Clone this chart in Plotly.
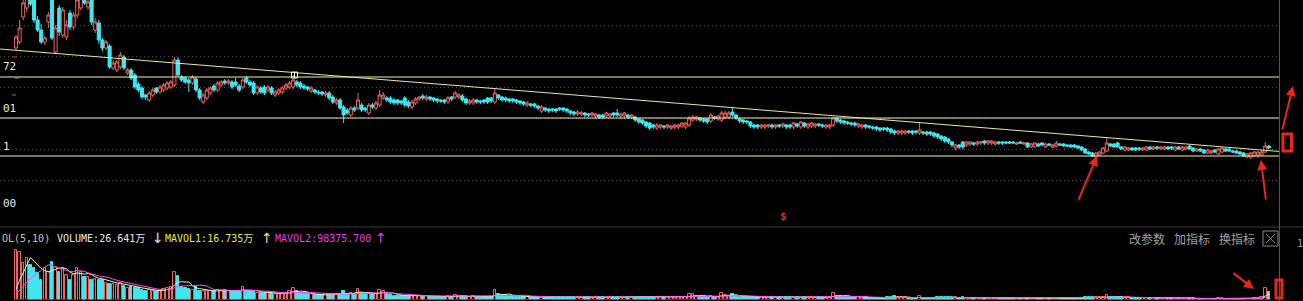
import plotly.graph_objects as go
import pandas as pd

# ---------------- data (price in 0.01 units, volume in 万股) ----------------
open_ = [
    202,208,233,242,258,250,230,220,208,228, 252,198,242,215,213,237,223,235,242,255,
    243,255,220,227,210,202,204,182,180,183, 193,177,180,175,166,162,155,150,155,162,
    158,160,162,163,165,190,173,172,170,167, 171,160,148,152,157,164,160,165,169,167,
    168,168,164,163,172,168,167,157,162,163, 160,162,155,157,158,162,163,163,168,167,
    164,163,159,160,158,158,155,157,153,147, 150,143,140,135,142,142,145,142,137,145,
    142,145,152,152,152,150,150,149,152,148, 143,147,151,154,151,153,152,151,150,150,
    148,153,153,153,154,151,147,147,150,149, 150,152,152,148,155,153,152,151,151,150,
    149,148,145,146,146,144,139,142,141,141, 141,142,142,141,139,138,136,136,137,136,
    135,134,135,135,134,134,137,137,134,134, 135,133,133,131,130,128,127,125,122,123,
    124,123,122,123,123,124,123,125,130,131, 132,131,131,129,133,131,130,133,133,138,
    135,131,130,129,128,125,125,123,123,124, 125,123,125,124,125,125,123,126,123,127,
    123,124,124,126,125,123,123,125,132,130, 129,128,127,127,124,123,125,124,123,123,
    122,122,122,121,119,117,117,117,119,119, 119,117,118,118,118,117,116,114,113,111,
    108,102,105,108,105,106,107,106,107,109, 107,107,106,108,108,108,108,108,106,108,
    106,107,103,103,106,107,103,106,103,104, 106,106,105,105,105,104,103,101,98,97,
    93,95,97,99,106,106,107,103,100,100, 102,102,102,100,100,103,101,103,101,101,
    103,103,100,103,100,101,104,102,99,101, 100,97,97,100,96,98,101,101,99,99,
    98,97,93,93,94,95,95,98,104,
]
close_ = [
    213,222,247,256,246,230,220,208,212,235, 212,222,218,240,225,223,235,250,255,247,
    248,228,228,210,202,208,183,187,188,195, 182,180,172,163,160,153,153,157,160,158,
    163,165,167,168,190,175,170,168,167,173, 160,152,155,160,162,160,167,168,167,169,
    163,165,160,170,168,165,157,163,158,157, 163,157,158,160,162,165,167,170,165,163,
    162,161,162,158,157,156,157,152,148,150, 142,135,137,142,140,150,140,140,145,143,
    147,155,155,150,148,147,147,147,145,144, 148,151,153,152,153,151,150,149,149,148,
    152,151,157,155,150,147,149,150,148,148, 148,148,149,157,152,150,150,149,149,148,
    147,146,147,145,144,142,143,140,139,140, 139,141,140,139,137,136,138,137,135,135,
    137,136,133,133,137,136,135,135,136,137, 133,135,130,128,127,124,122,123,125,125,
    123,125,124,125,125,127,127,132,133,133, 130,129,128,135,132,134,137,137,137,135,
    132,129,128,128,124,123,123,125,125,125, 123,125,124,126,123,123,127,124,128,124,
    126,127,126,125,124,125,125,132,129,128, 127,127,126,125,126,125,123,123,122,121,
    120,121,120,118,117,119,119,119,118,117, 118,120,117,116,116,114,113,111,109,108,
    105,105,103,103,108,108,106,108,108,107, 109,109,108,107,107,107,107,107,107,107,
    107,103,106,107,104,105,106,105,105,107, 105,104,104,103,103,102,100,97,96,94,
    97,98,102,107,104,103,103,101,103,102, 100,100,101,102,103,101,103,102,103,103,
    101,102,103,101,103,103,101,99,101,99, 97,100,99,98,101,102,99,99,98,97,
    96,94,96,97,98,98,98,104,102,
]
high = [
    215,230,250,262,265,255,234,226,214,238, 256,225,245,243,230,240,238,253,258,260,
    252,258,232,230,212,210,206,190,190,198, 195,182,182,177,168,164,156,159,162,163,
    165,167,169,170,193,193,175,174,172,175, 173,162,157,162,164,166,169,170,171,171,
    170,172,166,172,174,170,169,165,164,165, 165,164,160,162,164,167,169,175,170,169,
    166,164,164,161,160,159,159,159,155,152, 152,145,142,144,144,157,147,143,147,147,
    149,160,158,154,154,152,151,150,154,150, 150,153,154,156,155,154,153,152,151,151,
    154,154,159,157,156,152,151,152,151,150, 151,153,153,162,156,154,153,152,152,151,
    150,149,149,147,147,145,145,143,142,142, 142,143,143,142,140,139,140,139,138,137,
    138,137,136,136,138,137,138,141,137,138, 136,136,134,132,131,129,128,126,127,126,
    125,126,125,126,126,128,128,134,135,134, 133,132,132,137,134,135,139,139,139,142,
    136,132,131,130,129,126,126,126,126,126, 126,126,126,127,126,126,128,127,129,128,
    127,128,127,127,126,126,126,133,133,131, 130,129,128,128,127,126,126,125,124,124,
    123,123,123,122,120,120,120,120,120,120, 120,127,119,119,119,118,117,115,114,112,
    109,106,106,109,109,109,108,109,109,110, 110,110,109,109,109,109,109,109,108,109,
    108,108,107,108,107,108,107,107,106,109, 107,107,106,106,106,105,104,102,99,98,
    98,99,103,112,107,107,108,104,104,103, 103,103,103,103,104,104,104,104,104,104,
    104,104,104,104,104,104,105,103,102,102, 101,101,100,101,102,103,102,102,100,100,
    99,98,97,98,99,99,100,108,105,
]
low = [
    200,206,230,238,244,227,218,206,205,222, 210,196,214,212,210,220,220,232,240,245,
    240,225,217,206,199,200,181,180,178,181, 180,175,170,161,158,151,150,148,153,156,
    156,158,160,161,163,173,168,166,158,165, 158,150,146,150,155,158,158,163,165,165,
    161,163,158,161,166,163,155,155,156,155, 158,155,153,155,156,160,161,161,163,161,
    160,159,157,156,155,154,153,150,146,145, 140,127,135,133,138,140,138,138,135,141,
    140,143,150,148,146,145,145,145,143,142, 141,145,149,150,149,149,148,147,147,146,
    146,149,151,151,148,145,145,145,146,146, 146,146,147,146,150,148,148,147,147,146,
    145,144,143,143,142,140,137,138,137,138, 137,139,138,137,135,134,134,134,133,133,
    133,132,131,131,132,132,133,133,132,132, 131,131,128,126,125,122,120,121,120,121,
    121,121,120,121,121,122,121,123,128,129, 128,127,126,127,130,129,128,131,131,133,
    130,127,126,126,122,121,121,121,121,122, 121,121,122,122,121,121,121,122,121,122,
    121,122,122,123,122,121,121,123,127,126, 125,125,124,123,122,121,121,121,120,119,
    118,119,118,116,115,115,115,115,116,115, 116,115,115,114,114,112,111,109,107,106,
    103,100,101,101,103,104,104,104,105,105, 105,105,104,105,105,106,106,106,105,106,
    105,102,102,102,103,104,102,104,102,103, 104,103,103,102,102,101,99,96,95,93,
    92,94,96,98,103,102,102,100,99,99, 99,99,99,99,99,100,100,100,100,100,
    100,100,99,100,99,100,100,98,98,98, 96,96,96,97,95,97,98,98,97,96,
    95,93,92,91,93,92,94,97,101,
]
volume = [
    166,160,123,140,117,107,90,67,107,93,127,110,93,107,83,67,83,107,93,77,77,67,70,67,
    67,57,53,53,50,57,47,40,43,40,40,33,30,33,27,27,30,37,40,43,93,80,43,40,37,33,43,30,
    30,27,27,30,33,30,33,30,30,27,30,43,30,27,27,23,23,23,23,20,20,20,20,23,27,40,27,23,
    20,17,17,15,15,15,17,17,20,17,20,27,20,23,17,37,23,17,20,17,20,33,27,17,15,13,13,13,
    13,13,15,13,12,10,12,10,10,10,10,10,12,10,15,13,12,13,10,12,10,8,8,8,10,33,17,
    15,15,13,13,10,10,8,8,8,8,10,10,8,7,7,7,7,7,7,8,8,7,7,7,7,7,7,7,
    7,8,7,7,8,7,7,7,7,8,8,8,10,10,8,8,7,7,7,7,7,7,8,8,17,17,13,10,
    10,8,13,8,10,22,15,13,17,12,10,8,8,10,8,7,7,7,7,7,7,7,7,7,7,8,7,8,
    7,7,8,7,7,7,7,8,23,12,12,10,10,8,7,7,7,7,5,5,5,5,5,7,10,13,8,7,
    7,5,5,5,11,5,5,5,5,7,7,7,7,8,7,5,7,5,5,5,5,5,5,5,5,5,5,
    5,4,4,4,4,4,4,5,4,4,4,4,4,4,4,5,4,4,4,4,4,4,5,7,7,7,8,7,
    10,14,8,7,7,7,7,7,5,4,4,4,4,4,4,4,4,4,4,4,4,4,4,4,4,4,
    3,3,3,3,3,3,4,4,3,3,3,3.0,2.9,2.9,3.0,2.9,4.0,5.0,8.0,40.034,26.641,
]
levels = [173, 132, 94]            # horizontal support / resistance lines
trend_x = [-4.4, 351.1]            # down-trend line anchors (bar index)
trend_y = [201.0, 98.5]
grid_vals = [225, 194, 163, 132, 101, 70]
left_labels = ["72", "01", "1", "00"]
legend_texts = ["OL(5,10)", "VOLUME:26.641万", "↓", "MAVOL1:16.735万", "↑", "MAVOL2:98375.700", "↑"]
buttons = ["改参数", "加指标", "换指标"]

n = len(close_)
assert len(open_) == n and len(high) == n and len(low) == n and len(volume) == n
idx = list(range(n))

RED = "#f06262"
CYAN = "#3fe6ee"
PW, PH = 1280.0, 301.0


def X(p):
    return p / PW


def Y(p):
    return 1 - p / PH


vol = pd.Series(volume)
mavol1 = (vol.rolling(5, min_periods=1).sum() / 5).tolist()
mavol2 = (vol.rolling(10, min_periods=1).sum() / 10).tolist()
up = [c >= o for o, c in zip(open_, close_)]

fig = go.Figure()
fig.add_trace(go.Candlestick(
    x=idx, open=open_, high=high, low=low, close=close_,
    increasing=dict(line=dict(color=RED, width=1), fillcolor="#000000"),
    decreasing=dict(line=dict(color=CYAN, width=1), fillcolor=CYAN),
    whiskerwidth=0, hoverinfo="skip", xaxis="x", yaxis="y"))
fig.add_trace(go.Bar(
    x=idx, y=volume, width=0.72,
    marker=dict(color=["#000000" if u else CYAN for u in up],
                line=dict(color=[RED if u else CYAN for u in up], width=1)),
    hoverinfo="skip", xaxis="x", yaxis="y2"))
fig.add_trace(go.Scatter(x=idx, y=mavol1, mode="lines", line=dict(color="#f2f2b0", width=1),
                         hoverinfo="skip", xaxis="x", yaxis="y2"))
fig.add_trace(go.Scatter(x=idx, y=mavol2, mode="lines", line=dict(color="#ff4cff", width=1),
                         hoverinfo="skip", xaxis="x", yaxis="y2"))

shapes = []
for lv in levels:
    shapes.append(dict(type="line", xref="paper", yref="y", x0=0, x1=1, y0=lv, y1=lv,
                       line=dict(color="#eeeea0", width=1)))
shapes.append(dict(type="line", xref="x", yref="y", x0=trend_x[0], x1=trend_x[1],
                   y0=trend_y[0], y1=trend_y[1], line=dict(color="#e8e89a", width=1)))
# panel separators
shapes.append(dict(type="line", xref="paper", yref="paper", x0=0, x1=X(1303), y0=Y(227), y1=Y(227),
                   line=dict(color="#3a3a3a", width=1)))
shapes.append(dict(type="line", xref="paper", yref="paper", x0=X(1279.5), x1=X(1279.5), y0=0, y1=1,
                   line=dict(color="#555555", width=1)))
# left axis tick dashes
for (xa, xb, yy, col) in [(13, 17, 57, "#d04040"), (15, 19, 78, "#e08848"), (12, 16, 95, "#b06060")]:
    shapes.append(dict(type="line", xref="paper", yref="paper", x0=X(xa), x1=X(xb), y0=Y(yy), y1=Y(yy),
                       line=dict(color=col, width=1)))
# close box
shapes.append(dict(type="rect", xref="paper", yref="paper", x0=X(1263), x1=X(1278), y0=Y(246), y1=Y(231),
                   line=dict(color="#8a8a8a", width=1)))
shapes.append(dict(type="line", xref="paper", yref="paper", x0=X(1266), x1=X(1275), y0=Y(234), y1=Y(243),
                   line=dict(color="#8a8a8a", width=1)))
shapes.append(dict(type="line", xref="paper", yref="paper", x0=X(1275), x1=X(1266), y0=Y(234), y1=Y(243),
                   line=dict(color="#8a8a8a", width=1)))
# crosshair marker
shapes.append(dict(type="rect", xref="paper", yref="paper", x0=X(291.5), x1=X(297.5), y0=Y(78), y1=Y(72),
                   line=dict(color="#ffffff", width=1)))
shapes.append(dict(type="line", xref="paper", yref="paper", x0=X(294.5), x1=X(294.5), y0=Y(78), y1=Y(72),
                   line=dict(color="#ffffff", width=1)))
# red hand-drawn boxes
RD = "#e8261c"
shapes.append(dict(type="rect", xref="paper", yref="paper", x0=X(1283), x1=X(1291.5), y0=Y(151), y1=Y(134),
                   line=dict(color=RD, width=3)))
shapes.append(dict(type="rect", xref="paper", yref="paper", x0=X(1276), x1=X(1282), y0=Y(298), y1=Y(280),
                   line=dict(color=RD, width=3)))

ann = []
mono = "DejaVu Sans Mono, Noto Sans CJK SC"
for txt, yy, col in zip(left_labels, [66, 108, 146, 203],
                        ["#e8e8d0", "#f0f0c8", "#f0f0a0", "#e8e8e8"]):
    ann.append(dict(text=txt, x=X(1), y=Y(yy), xref="paper", yref="paper", xanchor="left",
                    yanchor="middle", showarrow=False, font=dict(family=mono, size=11, color=col)))
for txt, xl, col in zip(legend_texts, [0, 55, 150, 163, 259, 273, 373],
                        ["#c4c4c4", "#e8e8e8", "#e8e8e8", "#e8e850", "#e8e850", "#e040e0", "#e040e0"]):
    is_arrow = txt in ("↑", "↓")
    ann.append(dict(text=txt, x=X(xl), y=Y(238), xref="paper", yref="paper", xanchor="left",
                    yanchor="middle", showarrow=False,
                    font=dict(family="DejaVu Sans" if is_arrow else mono,
                              size=14 if is_arrow else 10, color=col)))
for txt, xl in zip(buttons, [1127, 1172, 1217]):
    ann.append(dict(text=txt, x=X(xl), y=Y(238), xref="paper", yref="paper", xanchor="left",
                    yanchor="middle", showarrow=False,
                    font=dict(family="Noto Sans CJK SC", size=12, color="#a0a0a0")))
ann.append(dict(text="1", x=X(1295), y=Y(243), xref="paper", yref="paper", xanchor="left",
                yanchor="middle", showarrow=False, font=dict(family=mono, size=10, color="#9a9a9a")))
ann.append(dict(text="<b>$</b>", x=X(783), y=Y(217), xref="paper", yref="paper", xanchor="center",
                yanchor="middle", showarrow=False, font=dict(family=mono, size=11, color="#e02020")))
for hx, hy, tx, ty in [(1097, 156, 1078, 201), (1261, 160, 1266, 201),
                       (1293, 86, 1282, 131), (1254, 289, 1232, 272)]:
    ann.append(dict(text="", x=X(hx), y=Y(hy), xref="paper", yref="paper", showarrow=True,
                    ax=tx - hx, ay=ty - hy, arrowhead=2, arrowsize=1, arrowwidth=2, arrowcolor=RD))

fig.update_layout(
    width=1303, height=301,
    margin=dict(l=0, r=23, t=0, b=0, pad=0, autoexpand=False),
    paper_bgcolor="#000000", plot_bgcolor="#000000",
    showlegend=False, boxgap=0.15, boxgroupgap=0, bargap=0,
    xaxis=dict(range=[-4.444, 351.11], domain=[0, 1], showgrid=False, zeroline=False,
               showticklabels=False, ticks="", showline=False, rangeslider=dict(visible=False)),
    yaxis=dict(range=[24, 250], domain=[1 - 226 / 301, 1], tickvals=grid_vals, showgrid=True,
               gridcolor="#4c4c58", gridwidth=1, griddash="1px,3px", zeroline=False,
               showticklabels=False, ticks="", showline=False),
    yaxis2=dict(range=[0, 170], domain=[1 - 299.5 / 301, 1 - 249 / 301], anchor="x",
                tickvals=[168], showgrid=True, gridcolor="#4c4c58", gridwidth=1, griddash="1px,3px",
                zeroline=False, showticklabels=False, ticks="", showline=False),
    shapes=shapes, annotations=ann,
)

fig.write_html("out.html")
